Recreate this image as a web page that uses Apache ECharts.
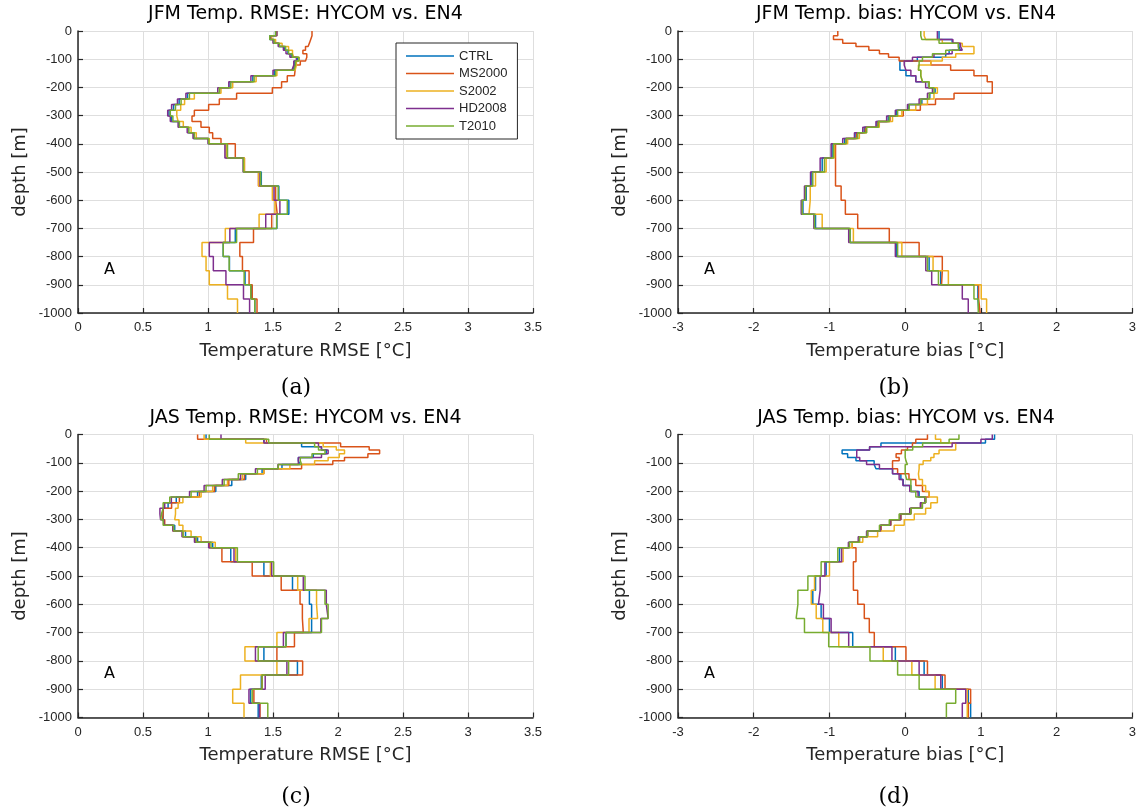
<!DOCTYPE html>
<html>
<head>
<meta charset="utf-8">
<script src="https://cdn.jsdelivr.net/npm/echarts@6/dist/echarts.min.js"></script>
<style>
html,body{margin:0;padding:0;background:#fff;}
#chart{width:1139px;height:810px;}
</style>
</head>
<body>
<div id="chart"></div>
<script>
// Layer edges (depth, m) shared by all profiles
const depthEdges = [0,17,30,43,55,68,81,93,106,121,139,159,180,201,221,241,261,281,301,321,341,361,381,400,450,500,550,600,650,700,750,800,850,900,950,1000];
const seriesNames = ['CTRL','MS2000','S2002','HD2008','T2010'];
const seriesColors = ['#0072BD','#D95319','#EDB120','#7E2F8E','#77AC30'];

// (a) JFM RMSE
const a_CTRL   = [1.52,1.475,1.505,1.545,1.59,1.615,1.64,1.69,1.665,1.655,1.51,1.345,1.17,1.09,0.842,0.778,0.735,0.70,0.72,0.775,0.85,0.89,1.005,1.14,1.278,1.41,1.545,1.622,1.53,1.21,1.117,1.165,1.285,1.335,1.36];
const a_MS2000 = [1.80,1.79,1.78,1.77,1.75,1.73,1.76,1.75,1.71,1.67,1.665,1.61,1.566,1.495,1.22,1.087,1.005,0.895,0.877,0.946,1.01,1.036,1.10,1.21,1.28,1.388,1.52,1.533,1.49,1.35,1.245,1.265,1.316,1.34,1.377];
const a_S2002  = [1.53,1.49,1.52,1.57,1.62,1.65,1.66,1.70,1.68,1.67,1.53,1.37,1.19,1.10,0.895,0.82,0.79,0.76,0.77,0.81,0.87,0.91,1.01,1.14,1.28,1.39,1.495,1.515,1.393,1.133,0.954,0.985,1.01,1.15,1.227];
const a_HD2008 = [1.53,1.48,1.50,1.54,1.58,1.60,1.63,1.68,1.66,1.645,1.50,1.33,1.16,1.075,0.83,0.765,0.72,0.69,0.71,0.77,0.84,0.885,1.00,1.13,1.27,1.40,1.508,1.553,1.444,1.168,1.01,1.041,1.138,1.273,1.32];
const a_T2010  = [1.52,1.475,1.508,1.55,1.597,1.62,1.648,1.70,1.673,1.66,1.52,1.355,1.176,1.087,0.857,0.793,0.75,0.71,0.73,0.78,0.852,0.895,1.005,1.15,1.273,1.405,1.54,1.61,1.528,1.22,1.117,1.163,1.278,1.329,1.36];

// (b) JFM bias
const b_CTRL   = [0.447,0.447,0.62,0.71,0.73,0.58,0.535,0.16,-0.07,-0.07,0.01,0.14,0.307,0.395,0.325,0.22,0.044,-0.114,-0.224,-0.373,-0.54,-0.65,-0.80,-0.965,-1.096,-1.232,-1.307,-1.35,-1.184,-0.728,-0.114,0.316,0.469,0.96,0.974];
const b_MS2000 = [-0.89,-0.947,-0.825,-0.65,-0.48,-0.34,-0.22,-0.08,0.338,0.60,0.908,1.083,1.15,1.15,0.645,0.40,0.20,-0.026,-0.20,-0.36,-0.526,-0.64,-0.78,-0.92,-0.92,-0.92,-0.846,-0.79,-0.627,-0.21,0.184,0.49,0.48,0.97,0.99];
const b_S2002  = [0.25,0.27,0.49,0.754,0.908,0.908,0.667,0.49,0.338,0.175,0.206,0.228,0.316,0.425,0.38,0.294,0.14,-0.044,-0.167,-0.342,-0.51,-0.605,-0.76,-0.934,-1.044,-1.184,-1.254,-1.27,-1.096,-0.684,-0.044,0.368,0.57,1.004,1.075];
const b_HD2008 = [0.425,0.425,0.63,0.73,0.754,0.62,0.38,0.096,-0.013,0.01,0.075,0.14,0.27,0.36,0.294,0.184,0.03,-0.13,-0.245,-0.386,-0.56,-0.67,-0.825,-0.978,-1.123,-1.25,-1.33,-1.373,-1.206,-0.746,-0.13,0.272,0.35,0.754,0.833];
const b_T2010  = [0.206,0.22,0.447,0.70,0.71,0.535,0.36,0.228,0.184,0.175,0.206,0.228,0.316,0.38,0.316,0.206,0.053,-0.10,-0.21,-0.355,-0.51,-0.627,-0.78,-0.947,-1.066,-1.22,-1.316,-1.36,-1.197,-0.728,-0.10,0.294,0.439,0.908,0.965];

// (c) JAS RMSE
const c_CTRL   = [0.985,1.43,1.72,1.873,1.91,1.81,1.695,1.708,1.569,1.416,1.29,1.183,1.06,0.92,0.756,0.693,0.655,0.655,0.667,0.744,0.827,0.92,1.036,1.175,1.43,1.65,1.78,1.797,1.797,1.60,1.43,1.688,1.41,1.327,1.386];
const c_MS2000 = [0.92,1.45,2.02,2.24,2.32,2.23,2.05,1.96,1.72,1.43,1.28,1.16,1.05,0.934,0.78,0.72,0.655,0.65,0.667,0.73,0.807,0.904,1.01,1.107,1.34,1.563,1.708,1.726,1.733,1.665,1.53,1.728,1.416,1.353,1.40];
const c_S2002  = [0.97,1.29,1.886,1.987,2.05,2.01,1.924,1.82,1.63,1.43,1.264,1.15,1.036,0.947,0.807,0.77,0.75,0.744,0.777,0.807,0.87,0.947,1.056,1.213,1.48,1.69,1.835,1.843,1.777,1.53,1.284,1.53,1.25,1.19,1.277];
const c_HD2008 = [1.1,1.43,1.85,1.873,1.924,1.873,1.695,1.695,1.538,1.365,1.25,1.11,0.97,0.858,0.718,0.667,0.63,0.635,0.66,0.73,0.80,0.896,1.005,1.20,1.49,1.733,1.91,1.924,1.868,1.58,1.365,1.607,1.44,1.315,1.396];
const c_T2010  = [1.01,1.467,1.82,1.85,1.90,1.80,1.71,1.72,1.54,1.38,1.233,1.124,0.985,0.87,0.706,0.655,0.642,0.637,0.655,0.736,0.807,0.909,1.023,1.226,1.505,1.746,1.90,1.924,1.873,1.60,1.386,1.62,1.416,1.34,1.46];

// (d) JAS bias
const d_CTRL   = [1.18,1.06,-0.32,-0.47,-0.833,-0.76,-0.65,-0.41,-0.386,-0.167,-0.057,-0.026,0.075,0.184,0.27,0.206,0.075,-0.057,-0.19,-0.32,-0.496,-0.605,-0.737,-0.868,-1.044,-1.184,-1.22,-1.11,-1.0,-0.693,-0.13,0.25,0.49,0.833,0.864];
const d_MS2000 = [0.294,0.14,0.096,0.03,-0.05,-0.12,-0.08,-0.167,-0.167,-0.10,0.05,0.14,0.228,0.316,0.27,0.206,0.075,-0.057,-0.19,-0.32,-0.496,-0.605,-0.70,-0.65,-0.684,-0.684,-0.627,-0.54,-0.474,-0.408,0.01,0.294,0.526,0.864,0.833];
const d_S2002  = [0.40,0.47,0.667,0.667,0.447,0.38,0.338,0.237,0.184,0.175,0.184,0.228,0.27,0.316,0.425,0.338,0.27,0.12,-0.013,-0.145,-0.364,-0.56,-0.70,-0.82,-1.0,-1.197,-1.24,-1.175,-1.088,-0.877,-0.29,0.088,0.395,0.82,0.82];
const d_HD2008 = [1.15,1.0,0.62,-0.47,-0.64,-0.64,-0.60,-0.51,-0.34,-0.167,-0.08,-0.03,0.06,0.17,0.26,0.20,0.06,-0.07,-0.20,-0.33,-0.51,-0.62,-0.75,-0.84,-1.06,-1.123,-1.145,-1.08,-0.978,-0.746,-0.175,0.184,0.47,0.80,0.754];
const d_T2010  = [0.71,0.58,0.23,0.10,0.0,0.0,0.01,0.03,0.0,0.0,0.02,0.075,0.075,0.14,0.27,0.228,0.075,-0.08,-0.21,-0.34,-0.50,-0.605,-0.737,-0.89,-1.11,-1.285,-1.417,-1.44,-1.33,-1.01,-0.465,-0.10,0.184,0.667,0.544];

const panelTitles = ['JFM Temp. RMSE: HYCOM vs. EN4','JFM Temp. bias: HYCOM vs. EN4','JAS Temp. RMSE: HYCOM vs. EN4','JAS Temp. bias: HYCOM vs. EN4'];
const xNames = ['Temperature RMSE [°C]','Temperature bias [°C]','Temperature RMSE [°C]','Temperature bias [°C]'];
const captions = ['(a)','(b)','(c)','(d)'];
const panelData = [
  [a_CTRL,a_MS2000,a_S2002,a_HD2008,a_T2010],
  [b_CTRL,b_MS2000,b_S2002,b_HD2008,b_T2010],
  [c_CTRL,c_MS2000,c_S2002,c_HD2008,c_T2010],
  [d_CTRL,d_MS2000,d_S2002,d_HD2008,d_T2010]
];

function stairs(vals){
  const pts = [];
  for (let i = 0; i < vals.length; i++) {
    pts.push([vals[i], -depthEdges[i]]);
    pts.push([vals[i], -depthEdges[i+1]]);
  }
  return pts;
}

const FONT = '"Liberation Sans", Arial, sans-serif';
const TFONT = '"DejaVu Sans", sans-serif';
const AX = '#262626';
const grids = [
  {left:78, top:31, width:455, height:282},
  {left:678, top:31, width:456, height:282},
  {left:78, top:434.5, width:455, height:283},
  {left:678, top:434.5, width:456, height:283}
];
const xRanges = [[0,3.5,0.5],[-3,3,1],[0,3.5,0.5],[-3,3,1]];
const titleY = [5, 5, 409, 409];
const capPos = [[296,377],[894,377],[296,786],[894,786]];

const xAxis = [], yAxis = [], series = [], graphic = [];
for (let p = 0; p < 4; p++) {
  xAxis.push({
    type:'value', gridIndex:p, min:xRanges[p][0], max:xRanges[p][1], interval:xRanges[p][2],
    name:xNames[p], nameLocation:'middle', nameGap:29,
    nameTextStyle:{fontSize:18, color:AX, fontFamily:TFONT},
    axisLine:{show:true, onZero:false, lineStyle:{color:AX, width:1.5}},
    axisTick:{show:true, inside:true, length:5, lineStyle:{color:AX, width:1.2}},
    axisLabel:{fontSize:13, color:AX, margin:8, fontFamily:FONT, formatter:v => String(v)},
    splitLine:{show:true, lineStyle:{color:'#dedede', width:1}}
  });
  yAxis.push({
    type:'value', gridIndex:p, min:-1000, max:0, interval:100,
    name:'depth [m]', nameLocation:'middle', nameGap:49, nameRotate:90,
    nameTextStyle:{fontSize:18, color:AX, fontFamily:TFONT},
    axisLine:{show:true, onZero:false, lineStyle:{color:AX, width:1.5}},
    axisTick:{show:true, inside:true, length:5, lineStyle:{color:AX, width:1.2}},
    axisLabel:{fontSize:13, color:AX, margin:6, fontFamily:FONT, formatter:v => String(v)},
    splitLine:{show:true, lineStyle:{color:'#dedede', width:1}}
  });
  for (let s = 0; s < 5; s++) {
    series.push({
      type:'line', name:seriesNames[s], xAxisIndex:p, yAxisIndex:p,
      data:stairs(panelData[p][s]), symbol:'none', showSymbol:false,
      lineStyle:{color:seriesColors[s], width:1.5}, itemStyle:{color:seriesColors[s]},
      animation:false, silent:true
    });
  }
  const g = grids[p];
  graphic.push({type:'text', x:g.left + g.width/2, y:titleY[p],
    style:{text:panelTitles[p], fill:'#000', font:'19px '+TFONT, textAlign:'center', textVerticalAlign:'top'}});
  graphic.push({type:'text', x:capPos[p][0], y:capPos[p][1],
    style:{text:captions[p], fill:'#000', font:'22px "DejaVu Serif", serif', textAlign:'center', textVerticalAlign:'top'}});
  graphic.push({type:'text', x:g.left+26, y:g.top+231,
    style:{text:'A', fill:'#000', font:'16px '+TFONT, textVerticalAlign:'top'}});
}

const chart = echarts.init(document.getElementById('chart'), null, {renderer:'canvas'});
chart.setOption({
  animation:false,
  backgroundColor:'#fff',
  grid:grids,
  xAxis:xAxis,
  yAxis:yAxis,
  legend:{
    data:seriesNames.map(n => ({name:n, icon:'rect'})),
    orient:'vertical', left:396, top:43,
    itemWidth:48, itemHeight:1.6, itemGap:3.5, padding:[6,10,6,10],
    borderColor:AX, borderWidth:1, backgroundColor:'#fff',
    textStyle:{fontSize:13, color:AX, fontFamily:FONT, lineHeight:14},
    selectedMode:false
  },
  series:series,
  graphic:graphic
});
</script>
</body>
</html>
